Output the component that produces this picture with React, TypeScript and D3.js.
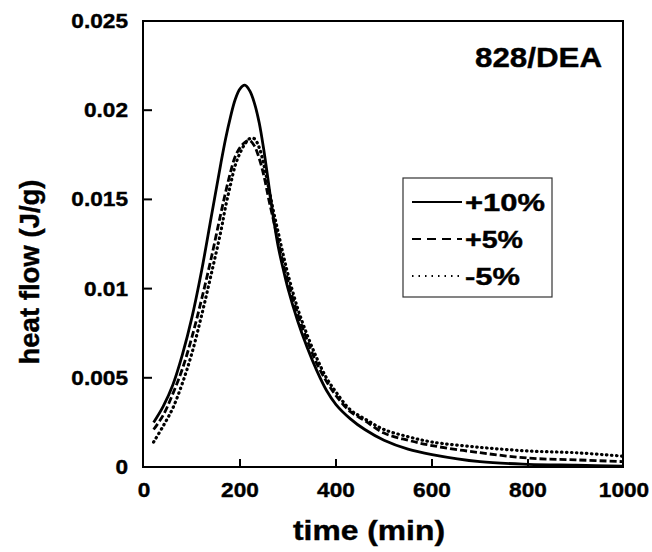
import React from "react";
import * as d3 from "d3";

const timeGrid = [20, 40, 60, 80, 100, 120, 140, 160, 170, 180, 190, 200, 210, 220, 230, 240, 250, 260, 270, 280, 290, 300, 320, 340, 360, 380, 400, 430, 460, 500, 550, 600, 700, 800, 900, 1000];

const plus10 = [0.0025, 0.0034, 0.0046, 0.0063, 0.0084, 0.0110, 0.0140, 0.0170, 0.0184, 0.0196, 0.0206, 0.0212, 0.0214, 0.0211, 0.0204, 0.0193, 0.0177, 0.0158, 0.0139, 0.0123, 0.0111, 0.0100, 0.0082, 0.0067, 0.0054, 0.0043, 0.0035, 0.0027, 0.0021, 0.0015, 0.0010, 0.0007, 0.0003, 0.00015, 0.0001, 0.00005];
const plus5 = [0.0021, 0.0029, 0.0041, 0.0055, 0.0073, 0.0094, 0.0117, 0.0142, 0.0154, 0.0165, 0.0174, 0.0179, 0.0182, 0.0183, 0.0180, 0.0173, 0.0163, 0.0150, 0.0138, 0.0126, 0.0114, 0.0104, 0.0086, 0.0071, 0.0058, 0.0048, 0.0040, 0.0031, 0.0026, 0.0019, 0.0015, 0.0012, 0.0008, 0.0005, 0.0004, 0.0003];
const minus5 = [0.0014, 0.0023, 0.0033, 0.0047, 0.0064, 0.0085, 0.0108, 0.0132, 0.0146, 0.0158, 0.0169, 0.0176, 0.0181, 0.0184, 0.0184, 0.0179, 0.0169, 0.0156, 0.0143, 0.0131, 0.0119, 0.0108, 0.0089, 0.0074, 0.0061, 0.0050, 0.0042, 0.0032, 0.0027, 0.0021, 0.0017, 0.0014, 0.0011, 0.0009, 0.0008, 0.0006];

const seriesLabels = ["+10%", "+5%", "-5%"];
const xTicks = [0, 200, 400, 600, 800, 1000];
const yTicks = [0, 0.005, 0.01, 0.015, 0.02, 0.025];
const yTickLabels = ["0", "0.005", "0.01", "0.015", "0.02", "0.025"];
const title = "828/DEA";
const xLabel = "time (min)";
const yLabel = "heat flow (J/g)";

const FONT = "'Liberation Sans', Arial, Helvetica, sans-serif";

function numWidth(s: string) {
  let w = 0;
  for (const c of s) w += c === "." ? 6.3 : 12.6;
  return w;
}

export default function App() {
  const left = 143, right = 623, top = 21, bottom = 467;
  const x = d3.scaleLinear().domain([0, 1000]).range([left + 1, right + 1]);
  const y = d3.scaleLinear().domain([0, 0.025]).range([bottom, top]);

  const line = d3
    .line<number>()
    .x((_, i) => x(timeGrid[i]))
    .y((d) => y(d))
    .curve(d3.curveCatmullRom.alpha(0.5));

  const series = [
    { values: plus10, dash: "none", cap: "butt" as const, width: 2.8 },
    { values: plus5, dash: "7,3", cap: "butt" as const, width: 2.8 },
    { values: minus5, dash: "0.5,4.5", cap: "round" as const, width: 3.2 },
  ];
  const legendDash = ["none", "9,6", "1.5,5"];
  const legendRows = [202, 239, 276];
  const legendTextLen = [80, 58, 55];

  return (
    <svg
      width={652}
      height={552}
      style={{ position: "absolute", left: 0, top: 0, background: "#fff" }}
      fontFamily={FONT}
      fontWeight="bold"
    >
      <rect x={0} y={0} width={652} height={552} fill="#fff" />
      <defs>
        <clipPath id="plotclip">
          <rect x={left} y={top} width={right - left} height={bottom - top} />
        </clipPath>
      </defs>

      <g clipPath="url(#plotclip)">
        {series.map((s, i) => (
          <path
            key={i}
            d={line(s.values) || ""}
            fill="none"
            stroke="#000"
            strokeWidth={s.width}
            strokeDasharray={s.dash}
            strokeLinecap={s.cap}
          />
        ))}
      </g>

      {/* frame */}
      <rect x={left} y={top} width={right - left} height={bottom - top} fill="none" stroke="#000" strokeWidth={2} />

      {/* x ticks */}
      {xTicks.map((t) => (
        <g key={t}>
          {t > 0 && t < 1000 && (
            <line x1={x(t)} x2={x(t)} y1={bottom} y2={bottom - 8} stroke="#000" strokeWidth={2} />
          )}
          <text
            x={x(t)}
            y={497}
            textAnchor="middle"
            fontSize={21}
            textLength={numWidth(String(t))}
            lengthAdjust="spacingAndGlyphs"
            stroke="#000"
            strokeWidth={0.4}
          >
            {String(t)}
          </text>
        </g>
      ))}

      {/* y ticks */}
      {yTicks.map((v, i) => (
        <g key={v}>
          {v > 0 && v < 0.025 && (
            <line x1={left} x2={left + 9} y1={y(v)} y2={y(v)} stroke="#000" strokeWidth={2} />
          )}
          <text
            x={128}
            y={y(v) + 7}
            textAnchor="end"
            fontSize={21}
            textLength={numWidth(yTickLabels[i])}
            lengthAdjust="spacingAndGlyphs"
            stroke="#000"
            strokeWidth={0.4}
          >
            {yTickLabels[i]}
          </text>
        </g>
      ))}

      {/* axis labels */}
      <text x={369} y={540} textAnchor="middle" fontSize={27} textLength={152} lengthAdjust="spacingAndGlyphs" stroke="#000" strokeWidth={0.4}>
        {xLabel}
      </text>
      <text
        transform={`translate(39,${272}) rotate(-90)`}
        textAnchor="middle"
        fontSize={27}
        textLength={185}
        lengthAdjust="spacingAndGlyphs"
        stroke="#000"
        strokeWidth={0.4}
      >
        {yLabel}
      </text>

      {/* title */}
      <text x={602} y={67} textAnchor="end" fontSize={28} textLength={127} lengthAdjust="spacingAndGlyphs" stroke="#000" strokeWidth={0.4}>
        {title}
      </text>

      {/* legend */}
      <rect x={403} y={178} width={149} height={119} fill="#fff" stroke="#333" strokeWidth={1.2} />
      {seriesLabels.map((lab, i) => (
        <g key={lab}>
          <line
            x1={412}
            x2={462}
            y1={legendRows[i]}
            y2={legendRows[i]}
            stroke="#000"
            strokeWidth={2}
            strokeDasharray={legendDash[i]}
          />
          <text
            x={465}
            y={legendRows[i] + 9}
            fontSize={24}
            textLength={legendTextLen[i]}
            lengthAdjust="spacingAndGlyphs"
            stroke="#000"
            strokeWidth={0.4}
          >
            {lab}
          </text>
        </g>
      ))}
    </svg>
  );
}
